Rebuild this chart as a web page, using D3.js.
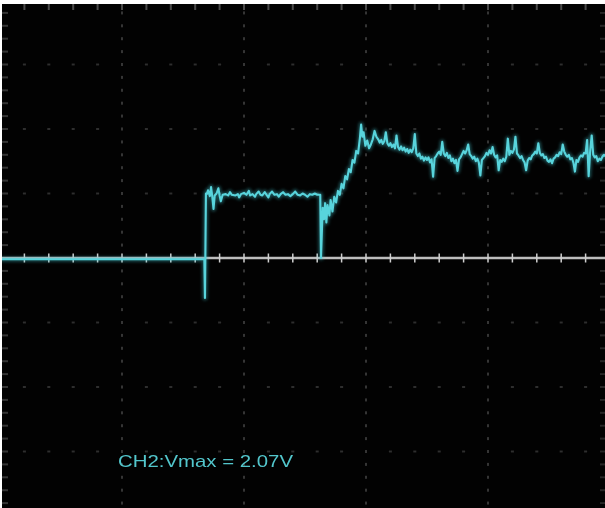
<!DOCTYPE html>
<html>
<head>
<meta charset="utf-8">
<script src="https://cdn.jsdelivr.net/npm/d3@7"></script>
<style>
  html, body { margin: 0; padding: 0; background: #ffffff; }
  svg { display: block; }
</style>
</head>
<body>
<svg id="scope" width="605" height="508"></svg>
<script>
// CH2 capture, 1 V/div vertical, 10 µs/div horizontal.
// Sample times (µs from the left edge of the screen) and CH2 voltages (V).
const timeUs = [
  0, 16.75, 16.8, 16.88,
  16.95, 17.05, 17.2, 17.3, 17.4, 17.5, 17.6, 17.75, 17.9, 18.0, 18.1, 18.25, 18.5, 18.7, 18.85, 19.0,
  19.3, 19.5, 19.6, 19.75, 20.0, 20.2, 20.4, 20.5, 20.7, 20.9, 21.0, 21.2, 21.35, 21.5, 21.7, 21.85,
  22.0, 22.1, 22.3, 22.5, 22.7, 22.85, 23.0, 23.2, 23.4, 23.6, 23.8, 24.0, 24.2, 24.4, 24.6, 24.8,
  25.0, 25.2, 25.4, 25.6, 25.8, 26.0, 26.25, 26.31,
  26.45, 26.55, 26.65, 26.75, 26.85, 27.0, 27.1, 27.25, 27.4, 27.55, 27.7, 27.85, 28.0, 28.15, 28.3,
  28.45, 28.6, 28.75, 28.9, 29.05, 29.2, 29.35, 29.5, 29.6, 29.7, 29.8, 29.95, 30.1, 30.25, 30.4,
  30.55, 30.7, 30.85,
  31.0, 31.125, 31.25, 31.375, 31.5, 31.625, 31.75, 31.875,
  32.0, 32.125, 32.25, 32.375, 32.5, 32.625, 32.75, 32.875,
  33.0, 33.125, 33.25, 33.375, 33.5, 33.625, 33.75, 33.875,
  34.0, 34.125, 34.25, 34.375, 34.5, 34.625, 34.75, 34.875,
  35.0, 35.125, 35.25, 35.375, 35.5, 35.625, 35.75, 35.875,
  36.0, 36.125, 36.25, 36.375, 36.5, 36.625, 36.75, 36.875,
  37.0, 37.125, 37.25, 37.375, 37.5, 37.625, 37.75, 37.875,
  38.0, 38.125, 38.25, 38.375, 38.5, 38.625, 38.75, 38.875,
  39.0, 39.125, 39.25, 39.375, 39.5, 39.625, 39.75, 39.875,
  40.0, 40.125, 40.25, 40.375, 40.5, 40.625, 40.75, 40.875,
  41.0, 41.125, 41.25, 41.375, 41.5, 41.625, 41.75, 41.875,
  42.0, 42.125, 42.25, 42.375, 42.5, 42.625, 42.75, 42.875,
  43.0, 43.125, 43.25, 43.375, 43.5, 43.625, 43.75, 43.875,
  44.0, 44.125, 44.25, 44.375, 44.5, 44.625, 44.75, 44.875,
  45.0, 45.125, 45.25, 45.375, 45.5, 45.625, 45.75, 45.875,
  46.0, 46.125, 46.25, 46.375, 46.5, 46.625, 46.75, 46.875,
  47.0, 47.125, 47.25, 47.375, 47.5, 47.625, 47.75, 47.875,
  48.0, 48.125, 48.25, 48.375, 48.5, 48.625, 48.75, 48.875,
  49.0, 49.125, 49.25, 49.375, 49.5, 49.625, 49.75, 49.875,
  50.0
];
const volts = [
  -0.02, -0.02, -0.62, 1.0,
  0.99, 1.05, 0.96, 1.1, 0.95, 0.76, 0.97, 1.0, 1.08, 0.97, 0.88, 0.98, 0.99, 0.97, 1.02, 0.98,
  0.97, 0.99, 0.94, 0.99, 1.01, 0.98, 1.04, 0.97, 0.99, 0.95, 0.99, 1.03, 0.98, 0.97, 1.02, 0.98,
  0.94, 0.99, 1.03, 0.98, 0.99, 0.95, 0.99, 1.02, 0.98, 0.99, 0.96, 0.99, 1.03, 0.98, 0.97, 1.0,
  0.98, 0.95, 0.99, 0.98, 1.0, 0.98, 0.98, 0.0,
  0.78, 0.6, 0.85, 0.55, 0.82, 0.66, 0.9, 0.72, 0.95, 0.86, 1.04, 0.98, 1.15, 1.08, 1.27,
  1.22, 1.38, 1.33, 1.52, 1.48, 1.66, 1.62, 1.86, 2.07, 1.88, 1.95, 1.74, 1.82, 1.7, 1.76,
  1.84, 1.97, 1.88,
  1.84, 1.79, 1.83, 1.77, 1.81, 1.95, 1.78, 1.74,
  1.78, 1.72, 1.76, 1.70, 1.90, 1.72, 1.68, 1.73,
  1.67, 1.71, 1.65, 1.69, 1.63, 1.68, 1.64, 1.70,
  1.92, 1.62, 1.58, 1.62, 1.54, 1.57, 1.51, 1.56,
  1.52, 1.56, 1.48, 1.53, 1.26, 1.55, 1.58, 1.62,
  1.65, 1.60, 1.80, 1.62, 1.58, 1.63, 1.55, 1.59,
  1.50, 1.54, 1.47, 1.52, 1.35, 1.53, 1.56, 1.61,
  1.66, 1.62, 1.67, 1.76, 1.61, 1.58, 1.54, 1.57,
  1.50, 1.54, 1.48, 1.28, 1.52, 1.55, 1.58, 1.63,
  1.60, 1.67, 1.62, 1.72, 1.60, 1.56, 1.59, 1.36,
  1.52, 1.49, 1.54, 1.50, 1.57, 1.85, 1.60, 1.66,
  1.63, 1.68, 1.88, 1.62, 1.59, 1.55, 1.58, 1.52,
  1.48, 1.36, 1.51, 1.55, 1.53, 1.59, 1.61, 1.65,
  1.62, 1.78, 1.63, 1.59, 1.61, 1.55, 1.57, 1.51,
  1.49, 1.53, 1.47, 1.54, 1.56, 1.60, 1.58, 1.64,
  1.61, 1.76, 1.65, 1.60, 1.57, 1.60, 1.53, 1.55,
  1.48, 1.34, 1.52, 1.49, 1.56, 1.59, 1.57, 1.63,
  1.62, 1.83, 1.27, 1.66, 1.90, 1.60, 1.56, 1.58,
  1.50, 1.54, 1.52, 1.57, 1.60, 1.58, 1.63, 1.60,
  1.62
];
const measureLabel = "CH2:Vmax = 2.07V";

// Graticule: 10 µs per major division, 5 minor ticks per division; 1 V per division.
const timeMajor = [0, 10, 20, 30, 40, 50];
const timeMinorStep = 2;
const voltMajor = [-4, -3, -2, -1, 0, 1, 2, 3, 4];
const voltMinorStep = 0.2;

const W = 605, H = 508;
const svg = d3.select("#scope");

const x = d3.scaleLinear().domain([0, 50]).range([0, 610]);
const y = d3.scaleLinear().domain([-4, 4]).range([516, 0]);

const defs = svg.append("defs");
defs.append("clipPath").attr("id", "screen")
  .append("rect").attr("x", 2).attr("y", 4).attr("width", W - 2).attr("height", H - 4);
const soft = defs.append("filter").attr("id", "soft")
  .attr("x", "-5%").attr("y", "-5%").attr("width", "110%").attr("height", "110%");
soft.append("feGaussianBlur").attr("stdDeviation", 0.6);
const glow = defs.append("filter").attr("id", "glow")
  .attr("x", "-5%").attr("y", "-20%").attr("width", "110%").attr("height", "140%");
glow.append("feGaussianBlur").attr("stdDeviation", 1.5);

svg.append("rect").attr("width", W).attr("height", H).attr("fill", "#ffffff");
const screen = svg.append("g").attr("clip-path", "url(#screen)");
screen.append("rect").attr("x", 2).attr("y", 4).attr("width", W - 2).attr("height", H - 4).attr("fill", "#020202");

const grid = screen.append("g").attr("filter", "url(#soft)");
const minorTimes = d3.range(0, 50 + 1e-9, timeMinorStep);
const minorVolts = d3.range(-4, 4 + 1e-9, voltMinorStep).map(v => +v.toFixed(2));

// dotted horizontal division lines
voltMajor.filter(v => v !== 0 && Math.abs(v) < 4).forEach(v => {
  grid.selectAll(null).data(minorTimes.filter(t => !timeMajor.includes(t))).enter()
    .append("rect")
    .attr("x", t => x(t) - 1.5).attr("y", y(v) - 1)
    .attr("width", 3).attr("height", 2)
    .attr("fill", "#2e2e2e");
});
// dotted vertical division lines
timeMajor.filter(t => t > 0 && t < 50).forEach(t => {
  grid.selectAll(null).data(minorVolts.filter(v => v !== 0)).enter()
    .append("rect")
    .attr("x", x(t) - 1).attr("y", v => y(v) - 1.5)
    .attr("width", 2).attr("height", 3)
    .attr("fill", "#363636");
});
// edge ticks along the top and the left border
grid.selectAll(null).data(minorTimes).enter().append("line")
  .attr("x1", t => x(t)).attr("x2", t => x(t))
  .attr("y1", y(4)).attr("y2", y(4) + 10)
  .attr("stroke", "#4a4a4a").attr("stroke-width", 2);
grid.selectAll(null).data(minorVolts).enter().append("line")
  .attr("x1", x(0)).attr("x2", x(0) + 8)
  .attr("y1", v => y(v)).attr("y2", v => y(v))
  .attr("stroke", "#363636").attr("stroke-width", 2);
// right-hand ticks of the central vertical axis
grid.selectAll(null).data(minorVolts).enter().append("line")
  .attr("x1", x(50) - 10).attr("x2", x(50) + 10)
  .attr("y1", v => y(v)).attr("y2", v => y(v))
  .attr("stroke", "#262626").attr("stroke-width", 2);

// central horizontal axis with minor ticks
grid.append("line")
  .attr("x1", x(0)).attr("x2", x(50))
  .attr("y1", y(0)).attr("y2", y(0))
  .attr("stroke", "#bdbdbd").attr("stroke-width", 2.4);
grid.selectAll(null).data(minorTimes).enter().append("line")
  .attr("x1", t => x(t)).attr("x2", t => x(t))
  .attr("y1", y(0) - 4.5).attr("y2", y(0) + 4.5)
  .attr("stroke", "#cfcfcf").attr("stroke-width", 1.5);

// CH2 trace: a soft halo under a brighter core line
const pts = timeUs.map((t, i) => [t, volts[i]]);
const line = d3.line().x(d => x(d[0])).y(d => y(d[1]));
screen.append("path").datum(pts)
  .attr("d", line).attr("fill", "none")
  .attr("stroke", "#3cbcc6").attr("stroke-width", 5)
  .attr("stroke-linejoin", "round")
  .attr("stroke-opacity", 0.4).attr("filter", "url(#glow)");
screen.append("path").datum(pts)
  .attr("d", line).attr("fill", "none")
  .attr("stroke", "#58d4dc").attr("stroke-width", 2.1)
  .attr("stroke-linejoin", "round")
  .attr("filter", "url(#soft)");

// measurement readout
screen.append("text")
  .attr("x", 118).attr("y", 467)
  .attr("font-family", "'Liberation Sans', Arial, sans-serif")
  .attr("font-size", 17)
  .attr("textLength", 175).attr("lengthAdjust", "spacingAndGlyphs")
  .attr("fill", "#52c6cc")
  .attr("filter", "url(#soft)")
  .text(measureLabel);
</script>
</body>
</html>
